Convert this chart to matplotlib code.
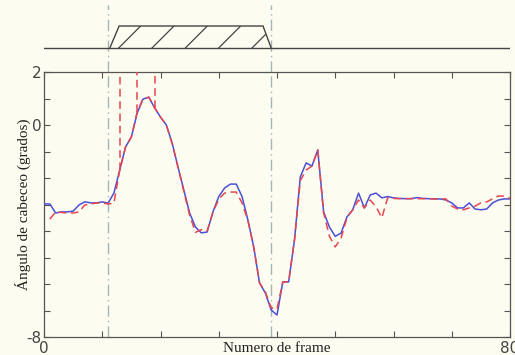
import numpy as np
import matplotlib
matplotlib.use("Agg")
import matplotlib.pyplot as plt
from matplotlib.patches import Polygon

# ---------------- data ----------------
frames = list(range(81))
blue_vals = [-2.98, -2.98, -3.32, -3.28, -3.28, -3.25, -3.02, -2.90, -2.94, -2.94,
             -2.90, -2.95, -2.57, -1.70, -0.83, -0.45, 0.45, 0.98, 1.05, 0.64,
             0.30, 0.00, -0.68, -1.58, -2.45, -3.32, -3.85, -4.07, -4.04, -3.28,
             -2.70, -2.38, -2.23, -2.23, -2.70, -3.58, -4.60, -5.96, -6.34, -6.98,
             -7.17, -5.92, -5.92, -4.34, -1.96, -1.43, -1.55, -0.94, -3.28, -3.85,
             -4.20, -4.08, -3.47, -3.20, -2.57, -3.13, -2.64, -2.57, -2.75, -2.70,
             -2.75, -2.77, -2.78, -2.78, -2.74, -2.77, -2.78, -2.79, -2.79, -2.83,
             -2.94, -3.13, -3.13, -2.94, -3.17, -3.20, -3.17, -2.94, -2.83, -2.79,
             -2.79]
red_vals = [np.nan, -3.55, -3.28, -3.30, -3.32, -3.32, -3.28, -3.02, -2.98, -2.94,
            -2.94, -2.98, -2.95, -1.70, -0.83, -0.45, 0.50, 0.98, 1.05, 0.65,
            0.30, 0.00, -0.70, -1.60, -2.50, -3.40, -4.05, -3.95, -4.00, -3.30,
            -2.80, -2.57, -2.53, -2.53, -2.94, -3.60, -4.60, -5.96, -6.30, -6.90,
            -6.95, -5.92, -5.92, -4.34, -2.10, -1.70, -1.55, -0.94, -3.30, -4.20,
            -4.60, -4.27, -3.50, -3.20, -2.83, -3.13, -2.83, -3.09, -3.50, -2.75,
            -2.77, -2.78, -2.78, -2.78, -2.78, -2.78, -2.78, -2.79, -2.79, -2.79,
            -3.06, -3.17, -3.20, -3.13, -3.06, -2.94, -2.90, -2.79, -2.68, -2.68,
            -2.77]
spike_frames = [13, 16, 19]          # red detection spikes (off scale)
marker_frames = [11, 39]             # vertical dash-dot markers
event_frames = [11.3, 12.9, 37.6, 39.0]
event_levels = [0, 1, 1, 0]

xticks = list(range(0, 81, 10))
xtick_labels = ['0', '', '', '', '', '', '', '', '80']
yticks = list(range(-8, 3))
ytick_labels = ['-8', '', '', '', '', '', '', '', '0', '', '2']

# ---------------- style ----------------
W, H = 515, 355
bg = '#fcfcf0'
spine_c = '#555555'
blue_c = '#4b4fd6'
red_c = '#e8464e'
mark_c = '#a3b6b6'
serif = ['Liberation Serif', 'DejaVu Serif']
plt.rcParams['hatch.linewidth'] = 0.9

fig = plt.figure(figsize=(W / 100, H / 100), dpi=100, facecolor=bg)

# main axes: x 44..510, y 72..337 (pixels from top)
L, R, T, B = 44, 510, 72, 337
ax = fig.add_axes([L / W, 1 - B / H, (R - L) / W, (B - T) / H], facecolor=bg)
ax.set_xlim(0, 80)
ax.set_ylim(-8, 2)

ax.plot(frames, blue_vals, color=blue_c, lw=1.1, zorder=3)
ax.plot(frames, red_vals, color=red_c, lw=1.1, ls=(0, (5, 3)), zorder=4)
spike_bottoms = [red_vals[f] for f in spike_frames]
ax.vlines(spike_frames, spike_bottoms, 2.5, color=red_c, lw=1.1,
          linestyles=[(0, (5, 3))], zorder=4)
ax.vlines(marker_frames, -8, 2, color=mark_c, lw=1.0,
          linestyles=[(0, (8, 3, 1, 3))], zorder=2)

ax.set_xticks(xticks)
ax.set_xticklabels(xtick_labels)
ax.set_yticks(yticks)
ax.set_yticklabels(ytick_labels)
ax.tick_params(direction='in', length=4, width=0.8, color=spine_c,
               top=True, right=True, labelsize=11, labelcolor='#444444')
ax.tick_params(axis='x', pad=3)
ax.tick_params(axis='y', pad=2)
for s in ax.spines.values():
    s.set_color(spine_c)
    s.set_linewidth(0.9)

ax.set_xlabel('Numero de frame', family=serif, fontsize=11, color='#222222')
ax.xaxis.set_label_coords(0.5, -0.045)
ax.xaxis.label.set_va('center')
ax.set_ylabel('Ángulo de cabeceo (grados)', family=serif, fontsize=11, color='#222222')
ax.yaxis.set_label_coords(-0.045, 0.5)
ax.yaxis.label.set_va('center')

# top event panel: y 5..72 px, baseline at 48, top of trapezoid at 26
t_top, t_bot = 5, 72
base_px, top_px = 48, 26
ppu = base_px - top_px
axt = fig.add_axes([L / W, 1 - t_bot / H, (R - L) / W, (t_bot - t_top) / H])
axt.set_facecolor('none')
axt.set_xlim(0, 80)
axt.set_ylim(-(t_bot - base_px) / ppu, (base_px - t_top) / ppu)
axt.axis('off')
axt.plot([0, 80], [0, 0], color='#444444', lw=1.0)
poly = Polygon(list(zip(event_frames, event_levels)), closed=False, fill=False,
               edgecolor='#444444', lw=1.0, hatch='/')
axt.add_patch(poly)
axt.vlines(marker_frames, *axt.get_ylim(), color=mark_c, lw=1.0,
           linestyles=[(0, (8, 3, 1, 3))], zorder=0)

fig.savefig('out.png', dpi=100, facecolor=bg)
